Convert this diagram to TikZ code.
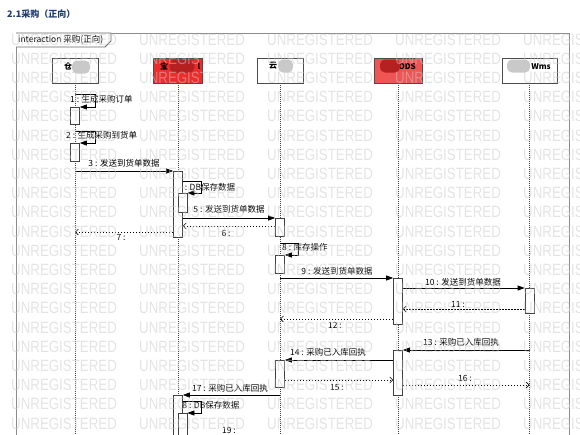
\documentclass[tikz,border=0pt]{standalone}
\usepackage{fontspec}
\setmainfont{Noto Sans CJK SC}
\newfontfamily\wmFont{Liberation Sans}
\usetikzlibrary{arrows.meta,positioning}
\pgfdeclarelayer{back}
\pgfsetlayers{back,main}
\newcommand{\msgFont}{\fontsize{8.5}{10}\selectfont}
\newcommand{\headFont}{\bfseries\fontsize{8}{10}\selectfont}
\newcommand{\wmText}{\scalebox{1}[1.23]{UNREGISTERED}}
\definecolor{titleBlue}{HTML}{1F3C70}
\definecolor{frameGray}{HTML}{8C8C8C}
\definecolor{headRed}{HTML}{EE2C2C}
\definecolor{odsRed}{HTML}{F05555}
\definecolor{blurRed}{HTML}{B52020}
\definecolor{blurGray}{HTML}{C9C9C9}
\definecolor{wmGray}{HTML}{C8C8C8}

\begin{document}
\begin{tikzpicture}[x=1pt, y=-1pt,
		head/.style={draw=black!70, line width=0.8pt, minimum width=#1, minimum height=25pt, inner sep=0pt},
		act/.style={draw=black!75, line width=0.7pt, fill=white, minimum width=9pt, minimum height=#1, inner sep=0pt, anchor=north},
		blur/.style 2 args={fill=#1, rounded corners=5pt, minimum width=#2, minimum height=13pt, inner sep=0pt},
		life/.style={black!75, line width=0.8pt, dash pattern=on 1pt off 1pt},
		msg/.style={line width=0.7pt, -{Triangle[length=7pt, width=5pt]}},
		ret/.style={line width=0.7pt, dash pattern=on 1.5pt off 1.5pt, -{Straight Barb[length=3pt, width=6pt, line width=0.6pt]}},
		lbl/.style={font=\msgFont, inner sep=0pt},
		wm/.style={anchor=west, font=\wmFont\fontsize{13.3}{14}\selectfont, text=wmGray, text opacity=0.5, inner sep=0pt}]
	\useasboundingbox (0,0) rectangle (580,434);
	\clip (0,0) rectangle (580,434);
	\node[anchor=west, font=\bfseries\fontsize{9}{11}\selectfont, text=titleBlue, inner sep=0pt] (title) at (7,14) {2.1采购（正向）};
	%frame
	\draw[frameGray, line width=1pt] (16,440) -- (16,33) -- (569,33) -- (569,440);
	\draw[black!60, fill=white, line width=0.8pt] (16,33) -- (111,33) -- (111,41) -- (105,47) -- (16,47);
	\node[anchor=west, font=\msgFont, inner sep=0pt] (frameName) at (18,40) {interaction 采购(正向)};
	%lifelines
	\node[head=46pt] (cang) at (75,70.5) {};
	\node[head=49pt, fill=headRed] (bao) at (178,70.5) {};
	\node[head=46pt] (yun) at (280,70.5) {};
	\node[head=48pt, fill=odsRed] (ods) at (398,70.5) {};
	\node[head=55pt] (wms) at (529.5,70.5) {};
	\node[font=\headFont, inner sep=0pt] (cangName) at (68,66) {仓};
	\node[blur={blurGray}{18pt}] (cangBlur) at (81,67) {};
	\node[font=\headFont, inner sep=0pt] (baoName) at (164,66) {宝};
	\node[font=\headFont, inner sep=0pt] (baoTail) at (199,66) {l};
	\node[blur={blurRed}{25pt}] (baoBlur) at (182,66) {};
	\node[font=\headFont, inner sep=0pt] (yunName) at (273,66) {云};
	\node[blur={blurGray}{15pt}] (yunBlur) at (285.5,66) {};
	\node[font=\headFont, inner sep=0pt, anchor=east] (odsName) at (416,67) {ODS};
	\node[blur={blurRed}{20pt}] (odsBlur) at (390,66) {};
	\node[font=\headFont, inner sep=0pt, anchor=east] (wmsName) at (551,67) {Wms};
	\node[blur={blurGray}{23pt}] (wmsBlur) at (518.5,66) {};
	\coordinate (bottom) at (0,434);
	\begin{pgfonlayer}{back}
		\foreach \n in {cang,bao,yun,ods,wms}
			\draw[life] (\n.south) -- (\n.south |- bottom);
	\end{pgfonlayer}
	%activations
	\node[act=17pt] (a1) at (75,107) {};
	\node[act=18pt] (a2) at (75,143) {};
	\node[act=66pt] (b1) at (178,171) {};
	\node[act=19pt] (b1n) at (182.5,193) {};
	\node[act=18pt] (c1) at (280,218) {};
	\node[act=18pt] (c2) at (280,255) {};
	\node[act=46pt] (d1) at (398,278) {};
	\node[act=25pt] (e1) at (529.5,288) {};
	\node[act=45pt] (d2) at (398,350) {};
	\node[act=27pt] (c3) at (280,360) {};
	\node[act=50pt] (b2) at (178,395) {};
	\node[act=30pt] (b2n) at (182.5,413) {};
	%messages
	\draw[msg] (cang |- 0,94) -- ++(20,0) |- (a1.north east);
	\draw[msg] (cang |- 0,131) -- ++(20,0) |- (a2.north east);
	\draw[msg] (cang |- b1.north) -- (b1.north west);
	\draw[msg] (b1.east |- 0,181) -- ++(18,0) |- (b1n.north east);
	\draw[msg] (b1.east |- c1.north) -- (c1.north west);
	\draw[ret] (c1.west |- 0,226) -- (b1.east |- 0,226);
	\draw[ret] (b1.west |- 0,232) -- (cang |- 0,232);
	\draw[msg] (yun |- 0,243) -- ++(18,0) |- (c2.north east);
	\draw[msg] (yun |- d1.north) -- (d1.north west);
	\draw[msg] (d1.east |- e1.north) -- (e1.north west);
	\draw[ret] (e1.west |- 0,309) -- (d1.east |- 0,309);
	\draw[ret] (d1.west |- 0,319) -- (yun |- 0,319);
	\draw[msg] (wms |- d2.north) -- (d2.north east);
	\draw[msg] (d2.west |- c3.north) -- (c3.north east);
	\draw[ret] (c3.east |- 0,380) -- (d2.west |- 0,380);
	\draw[ret] (d2.east |- 0,385) -- (wms |- 0,385);
	\draw[msg] (yun |- b2.north) -- (b2.north east);
	\draw[msg] (b2.east |- 0,401) -- ++(18,0) |- (b2n.north east);
	\begin{pgfonlayer}{back}
		\node[lbl, anchor=west] (m1) at (70,99) {1 : 生成采购订单};
		\node[lbl, anchor=west] (m2) at (66,135) {2 : 生成采购到货单};
		\node[lbl] (m3) at (124,163) {3 : 发送到货单数据};
		\node[lbl, anchor=west] (m4) at (178,187) {4 : DB保存数据};
		\node[lbl] (m5) at (229,209) {5 : 发送到货单数据};
		\node[lbl] (m6) at (226,233) {6 :};
		\node[lbl] (m7) at (121,238) {7 :};
		\node[lbl, anchor=west] (m8) at (282,247) {8 : 库存操作};
		\node[lbl] (m9) at (337,271) {9 : 发送到货单数据};
		\node[lbl] (m10) at (463,282) {10 : 发送到货单数据};
		\node[lbl] (m11) at (458,305) {11 :};
		\node[lbl] (m12) at (335,325) {12 :};
		\node[lbl] (m13) at (461,342) {13 : 采购已入库回执};
		\node[lbl] (m14) at (328,352) {14 : 采购已入库回执};
		\node[lbl] (m15) at (337,388) {15 :};
		\node[lbl] (m16) at (465,378) {16 :};
		\node[lbl] (m17) at (230,388) {17 : 采购已入库回执};
		\node[lbl, anchor=west] (m18) at (177.5,405) {18 : DB保存数据};
		\node[lbl] (m19) at (229,430) {19 :};
	\end{pgfonlayer}
	%watermark
	\foreach \r in {0,...,20}
		\foreach \c in {0,...,4}
			\node[wm] (wm\r-\c) at (11+128*\c, 39.4+19.2*\r) {\wmText};
\end{tikzpicture}
\end{document}
